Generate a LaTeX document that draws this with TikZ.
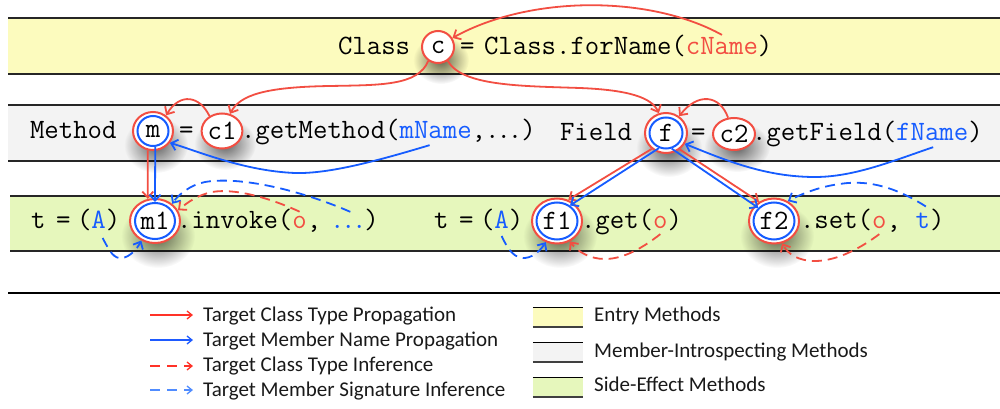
\documentclass[tikz,border=0pt]{standalone}
\usepackage{fontspec}
\newfontfamily\legfont{Carlito}
\usetikzlibrary{arrows.meta,shapes.geometric,fadings}
\definecolor{cred}{RGB}{242,78,66}
\definecolor{cblue}{RGB}{22,92,255}
\definecolor{lred}{RGB}{255,50,40}
\definecolor{lblue}{RGB}{30,90,255}
\definecolor{lblue2}{RGB}{80,140,255}
\definecolor{byellow}{RGB}{252,251,190}
\definecolor{bgray}{RGB}{243,243,243}
\definecolor{bgreen}{RGB}{230,247,188}
\tikzfading[name=softblob, inner color=transparent!0, outer color=transparent!100]
\tikzset{
  codetxt/.style={font=\ttfamily\fontsize{28}{30}\selectfont, inner sep=0pt, outer sep=0pt, anchor=base west},
  legtext/.style={font=\legfont\fontsize{21}{23}\selectfont, inner sep=0pt, anchor=base west, text=black!90},
  ring/.style={ellipse, draw=cred, line width=2pt, fill=white, inner sep=0pt,
    font=\ttfamily\fontsize{28}{30}\selectfont},
  inring/.style={ellipse, draw=cblue, line width=2pt, inner sep=0pt},
  shadowblob/.style={fill=black, opacity=0.6, path fading=softblob},
  arrowhd/.style={-{Straight Barb[length=6pt,width=11pt]}},
  redprop/.style={draw=cred, line width=1.8pt, arrowhd},
  blueprop/.style={draw=cblue, line width=1.8pt, arrowhd},
  redinf/.style={redprop, dash pattern=on 10pt off 6pt},
  blueinf/.style={blueprop, dash pattern=on 10pt off 6pt},
  bandline/.style={draw=black!85, line width=1.2pt},
  legarr/.style={line width=1.3pt, -{Straight Barb[length=5pt,width=8pt]}},
  swatch/.style={minimum width=50pt, minimum height=19pt, inner sep=0pt},
}
\begin{document}
\begin{tikzpicture}[x=1pt,y=-1pt]
\useasboundingbox (0,0) rectangle (1000,409);
% bands
\fill[byellow] (8,18) rectangle (1000,74);
\draw[bandline] (8,18) -- (1000,18) (8,74) -- (1000,74);
\fill[bgray] (8,105) rectangle (1000,161);
\draw[bandline] (8,105) -- (1000,105) (8,161) -- (1000,161);
\fill[bgreen] (10,196) rectangle (1000,251);
\draw[bandline] (10,196) -- (1000,196) (10,251) -- (1000,251);
\draw[black, line width=1.8pt] (8,293) -- (1000,293);

% shadows under the circles
\fill[shadowblob] (441,60) ellipse [x radius=28, y radius=24];
\fill[shadowblob] (156,145) ellipse [x radius=32, y radius=28];
\fill[shadowblob] (225,144) ellipse [x radius=31, y radius=26];
\fill[shadowblob] (669,148) ellipse [x radius=33, y radius=29];
\fill[shadowblob] (737,147) ellipse [x radius=33, y radius=25];
\fill[shadowblob] (158,236) ellipse [x radius=37, y radius=32];
\fill[shadowblob] (560,236) ellipse [x radius=37, y radius=32];
\fill[shadowblob] (777,236) ellipse [x radius=37, y radius=32];

% row 1
\node[codetxt] (cls) at (338,55) {Class};
\node[ring, minimum width=32pt, minimum height=32pt] (c) at (438,47) {c};
\node[codetxt] (eq1) at (460,55) {=};
\node[codetxt] (forname) at (484,55) {Class.forName(};
\node[codetxt, text=cred] (cName) at (forname.base east) {cName};
\node[codetxt] (rp1) at (cName.base east) {)};

% row 2 left
\node[codetxt] (meth) at (30,139) {Method};
\node[ring, minimum width=40pt, minimum height=38pt] (m) at (153,131) {m};
\node[inring, minimum width=31pt, minimum height=30pt] (m-in) at (m.center) {};
\node[codetxt] (eq2) at (179,139) {=};
\node[ring, minimum width=39pt, minimum height=35pt] (c1) at (222,131) {c1};
\node[codetxt] (getm) at (241,139) {.getMethod(};
\node[codetxt, text=cblue] (mName) at (getm.base east) {mName};
\node[codetxt] (rest2) at (mName.base east) {,\kern-1pt.\kern-3pt.\kern-3pt.\kern-1pt)};

% row 2 right
\node[codetxt] (fld) at (560,140) {Field};
\node[ring, minimum width=42pt, minimum height=40pt] (f) at (666,133) {f};
\node[inring, minimum width=33pt, minimum height=31pt] (f-in) at (f.center) {};
\node[codetxt] (eq3) at (691,140) {=};
\node[ring, minimum width=42pt, minimum height=32pt] (c2) at (734,134) {c2};
\node[codetxt] (getf) at (752,140) {.getField(};
\node[codetxt, text=cblue] (fName) at (getf.base east) {fName};
\node[codetxt] (rp3) at (fName.base east) {)};

% row 3 left
\node[codetxt] (t1) at (31,228) {t};
\node[codetxt] (eq4) at (56,228) {=};
\node[codetxt] (lp1) at (77,228) {(};
\node[codetxt, text=cblue] (A1) at (lp1.base east) {A};
\node[codetxt] (rp4) at (A1.base east) {)};
\node[ring, minimum width=50pt, minimum height=44pt] (m1) at (155,221) {m1};
\node[inring, minimum width=40pt, minimum height=36pt] (m1-in) at (m1.center) {};
\node[codetxt] (inv) at (177,228) {.invoke(};
\node[codetxt, text=cred] (o1) at (inv.base east) {o};
\node[codetxt] (cm1) at (o1.base east) {,};
\node[codetxt, text=cblue] (dots1) at ([xshift=9pt]cm1.base east) {.\kern-3.5pt.\kern-3.5pt.};
\node[codetxt] (rp5) at ([xshift=-2pt]dots1.base east) {)};

% row 3 right
\node[codetxt] (t2) at (434,228) {t};
\node[codetxt] (eq5) at (459,228) {=};
\node[codetxt] (lp2) at (480,228) {(};
\node[codetxt, text=cblue] (A2) at (lp2.base east) {A};
\node[codetxt] (rp6) at (A2.base east) {)};
\node[ring, minimum width=50pt, minimum height=45pt] (f1) at (557,221) {f1};
\node[inring, minimum width=41pt, minimum height=37pt] (f1-in) at (f1.center) {};
\node[codetxt] (get) at (581,228) {.get(};
\node[codetxt, text=cred] (o2) at (get.base east) {o};
\node[codetxt] (rp7) at (o2.base east) {)};
\node[ring, minimum width=50pt, minimum height=45pt] (f2) at (774,221) {f2};
\node[inring, minimum width=41pt, minimum height=37pt] (f2-in) at (f2.center) {};
\node[codetxt] (set) at (800,228) {.set(};
\node[codetxt, text=cred] (o3) at (set.base east) {o};
\node[codetxt] (cm2) at (o3.base east) {,};
\node[codetxt, text=cblue] (t3) at ([xshift=14.7pt]cm2.base east) {t};
\node[codetxt] (rp8) at (t3.base east) {)};

% red propagation
\draw[redprop] ([yshift=3pt]cName.north) .. controls (650,-5) and (530,-5) .. (c.32);
\draw[redprop] (c.235) .. controls (418,86) and (380,85) .. (330,86) .. controls (265,87) and (240,95) .. (c1.65);
\draw[redprop] (c.305) .. controls (462,86) and (520,86) .. (580,88) .. controls (630,90) and (652,98) .. (f.110);
\draw[redprop] (c1.130) .. controls (200,96) and (180,92) .. (m.50);
\draw[redprop] (c2.110) .. controls (720,95) and (698,92) .. (f.52);
\draw[redprop] (m.255) -- (m1.108);
\draw[redprop] (f.228) -- (f1.62);
\draw[redprop] (f.310) -- (f2.128);

% blue propagation
\draw[blueprop] ([xshift=30pt,yshift=-6pt]mName.south west) .. controls (380,160) and (330,174) .. (295,173) .. controls (245,171) and (200,152) .. (m.-35);
\draw[blueprop] ([xshift=37pt,yshift=-7pt]fName.south west) .. controls (895,160) and (855,177) .. (815,177) .. controls (765,177) and (725,160) .. (f.-30);
\draw[blueprop] (m-in.-82) -- (m1-in.north);
\draw[blueprop] (f-in.245) -- (f1-in.50);
\draw[blueprop] (f-in.290) -- (f2-in.140);

% inference
\draw[blueinf] ([xshift=2pt,yshift=13pt]dots1.north) .. controls (300,190) and (240,176) .. (205,182) .. controls (190,185) and (178,195) .. (m1.45);
\draw[redinf] ([yshift=4pt]o1.north) .. controls (270,198) and (235,188) .. (212,192) .. controls (198,195) and (188,202) .. (m1.25);
\draw[blueinf] ([xshift=4pt,yshift=-10pt]A1.south) .. controls (110,252) and (114,259) .. (122,258) .. controls (130,257) and (137,249) .. (m1.-125);
\draw[blueinf] ([yshift=-8pt]A2.south) .. controls (508,250) and (515,259) .. (525,258) .. controls (535,257) and (542,248) .. (f1.-118);
\draw[redinf] ([yshift=-6pt]o2.south) .. controls (645,246) and (625,259) .. (605,259) .. controls (590,259) and (578,252) .. (f1.-58);
\draw[redinf] ([yshift=-6pt]o3.south) .. controls (862,247) and (838,261) .. (815,261) .. controls (798,261) and (788,254) .. (f2.-70);
\draw[blueinf] ([xshift=3pt,yshift=6pt]t3.north) .. controls (900,190) and (875,181) .. (848,183) .. controls (825,185) and (805,192) .. (f2.55);

% legend left
\coordinate (l1a) at (150,315); \coordinate (l1b) at (193,315);
\coordinate (l2a) at (150,340); \coordinate (l2b) at (193,340);
\coordinate (l3a) at (150,366); \coordinate (l3b) at (193,366);
\coordinate (l4a) at (150,390); \coordinate (l4b) at (193,390);
\draw[legarr, draw=lred] (l1a) -- (l1b);
\draw[legarr, draw=lblue] (l2a) -- (l2b);
\draw[legarr, draw=lred, dash pattern=on 10pt off 7pt] (l3a) -- (l3b);
\draw[legarr, draw=lblue2, dash pattern=on 10pt off 7pt] (l4a) -- (l4b);
\node[legtext] (l1t) at (203,321) {Target Class Type Propagation};
\node[legtext] (l2t) at (203,346) {Target Member Name Propagation};
\node[legtext] (l3t) at (203,371) {Target Class Type Inference};
\node[legtext] (l4t) at (203,396) {Target Member Signature Inference};

% legend right
\node[swatch, fill=byellow] (s1) at (558,317.5) {};
\node[swatch, fill=bgray] (s2) at (558,352.5) {};
\node[swatch, fill=bgreen] (s3) at (558,387.5) {};
\foreach \s in {s1,s2,s3}{
  \draw[black, line width=1.2pt] (\s.north west) -- (\s.north east);
  \draw[black!75, line width=1.5pt] (\s.south west) -- (\s.south east);
}
\node[legtext] (s1t) at (594,321) {Entry Methods};
\node[legtext] (s2t) at (594,357) {Member-Introspecting Methods};
\node[legtext] (s3t) at (594,391) {Side-Effect Methods};
\end{tikzpicture}
\end{document}
